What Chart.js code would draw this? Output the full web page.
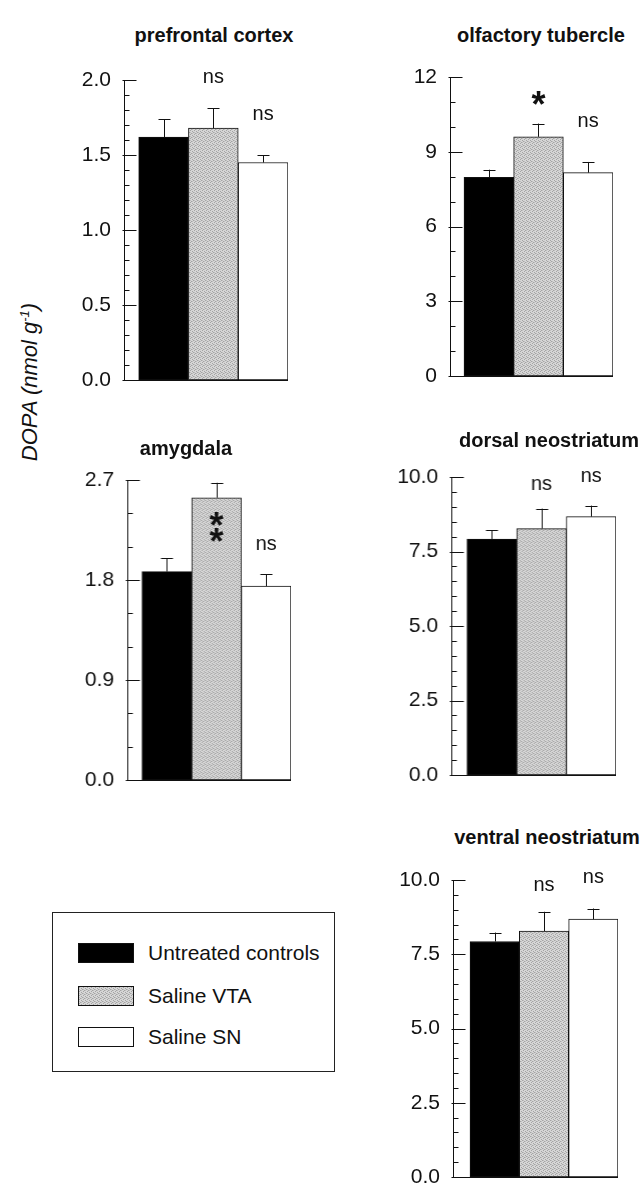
<!DOCTYPE html>
<html>
<head>
<meta charset="utf-8">
<script src="https://cdn.jsdelivr.net/npm/chart.js@4.4.1/dist/chart.umd.min.js"></script>
<style>
  body { margin: 0; background: #fff; width: 644px; height: 1186px; position: relative; overflow: hidden; font-family: "Liberation Sans", Arial, sans-serif; color: #111; }
  canvas.panel { position: absolute; }
  .title { position: absolute; font-weight: bold; font-size: 20px; white-space: nowrap; transform: translate(-50%, -50%); }
  #ylab { position: absolute; left: 30px; top: 382px; transform: translate(-50%, -50%) rotate(-90deg); font-style: italic; font-size: 22px; white-space: nowrap; }
  #ylab sup { font-size: 13px; }
  #legend { position: absolute; left: 52px; top: 912px; width: 283px; height: 160px; border: 1px solid #222; box-sizing: border-box; }
  .lrow { position: absolute; left: 25px; height: 20px; }
  .sw { position: absolute; left: 0; top: 0; width: 56px; height: 20px; border: 1px solid #111; box-sizing: border-box; }
  .lt { position: absolute; left: 70px; top: 50%; transform: translateY(-50%); font-size: 21px; white-space: nowrap; }
</style>
</head>
<body>
<div id="ylab">DOPA (nmol g<sup>-1</sup>)</div>
<div id="legend"></div>

<script>
const groups = ["Untreated controls", "Saline VTA", "Saline SN"];
const regions = ["prefrontal cortex", "olfactory tubercle", "amygdala", "dorsal neostriatum", "ventral neostriatum"];

// means and SEM per region (nmol/g)
const pfcMean = [1.62, 1.68, 1.45];
const pfcSem = [0.12, 0.13, 0.05];
const olfMean = [7.97, 9.6, 8.16];
const olfSem = [0.31, 0.53, 0.43];
const amyMean = [1.875, 2.54, 1.745];
const amySem = [0.12, 0.135, 0.105];
const dnsMean = [7.92, 8.27, 8.67];
const dnsSem = [0.30, 0.67, 0.37];
const vnsMean = [7.93, 8.28, 8.68];
const vnsSem = [0.30, 0.65, 0.36];

// significance marks
const pfcMarks = ["", "ns", "ns"];
const olfMarks = ["", "*", "ns"];
const amyMarks = ["", "**", "ns"];
const dnsMarks = ["", "ns", "ns"];
const vnsMarks = ["", "ns", "ns"];

// axis ticks: labelled values and minor step
const pfcTicks = [0.0, 0.5, 1.0, 1.5, 2.0];
const olfTicks = [0, 3, 6, 9, 12];
const amyTicks = [0.0, 0.9, 1.8, 2.7];
const dnsTicks = [0.0, 2.5, 5.0, 7.5, 10.0];
const vnsTicks = [0.0, 2.5, 5.0, 7.5, 10.0];
const pfcMinor = 0.1, olfMinor = 1, amyMinor = 0.3, dnsMinor = 0.5, vnsMinor = 0.5;

// gray stipple pattern
function makeStipple() {
  const c = document.createElement("canvas");
  c.width = 4; c.height = 4;
  const g = c.getContext("2d");
  g.fillStyle = "#d6d6d6";
  g.fillRect(0, 0, 4, 4);
  g.fillStyle = "#a4a4a4";
  [[0, 0], [2, 1], [1, 3], [3, 2]].forEach(p => g.fillRect(p[0], p[1], 1, 1));
  g.fillStyle = "#bdbdbd";
  [[2, 3], [0, 2]].forEach(p => g.fillRect(p[0], p[1], 1, 1));
  return c;
}
const stipple = makeStipple();
const grayFill = document.createElement("canvas").getContext("2d").createPattern(stipple, "repeat");
const fills = ["#000000", grayFill, "#ffffff"];

// legend
const legend = document.getElementById("legend");
const swTops = [30, 73, 114];
groups.forEach((g, i) => {
  const row = document.createElement("div");
  row.className = "lrow";
  row.style.top = swTops[i] + "px";
  const sw = document.createElement("div");
  sw.className = "sw";
  if (i === 0) sw.style.background = "#000";
  else if (i === 1) sw.style.backgroundImage = "url(" + stipple.toDataURL() + ")";
  else sw.style.background = "#fff";
  const t = document.createElement("div");
  t.className = "lt";
  t.textContent = g;
  row.appendChild(sw);
  row.appendChild(t);
  legend.appendChild(row);
});

const FONT = "'Liberation Sans', Arial, sans-serif";
const PAD_TOP = 30, PAD_BOTTOM = 28;

// baseline, error bars, inward tick marks and significance marks
const panelDeco = {
  id: "panelDeco",
  afterDatasetsDraw(chart) {
    const ctx = chart.ctx;
    const y = chart.scales.y;
    const area = chart.chartArea;
    const p = chart.options.plugins.panelDeco;
    const meta = chart.getDatasetMeta(0);
    ctx.save();
    ctx.strokeStyle = "#111";
    ctx.lineWidth = 1;
    const ax = Math.round(area.left) + 0.5;
    // baseline
    const by = Math.round(y.getPixelForValue(0)) + 0.5;
    ctx.beginPath();
    ctx.moveTo(ax, by);
    ctx.lineTo(area.right, by);
    ctx.stroke();
    // ticks
    y.ticks.forEach(t => {
      const py = Math.round(y.getPixelForValue(t.value)) + 0.5;
      const major = p.labels.some(v => Math.abs(v - t.value) < 1e-6);
      ctx.beginPath();
      ctx.moveTo(major ? ax - 2 : ax, py);
      ctx.lineTo(ax + (major ? 12 : 5), py);
      ctx.stroke();
    });
    // error bars
    meta.data.forEach((bar, i) => {
      const x = Math.round(bar.x) + 0.5;
      const top = y.getPixelForValue(p.mean[i] + p.sem[i]);
      ctx.beginPath();
      ctx.moveTo(x, bar.y);
      ctx.lineTo(x, top);
      ctx.moveTo(x - 6, Math.round(top) + 0.5);
      ctx.lineTo(x + 6, Math.round(top) + 0.5);
      ctx.stroke();
    });
    // marks
    ctx.fillStyle = "#111";
    ctx.textAlign = "center";
    meta.data.forEach((bar, i) => {
      const m = p.marks[i];
      if (!m) return;
      const top = y.getPixelForValue(p.mean[i] + p.sem[i]);
      const cy = top - p.off[i];
      if (m.indexOf("*") >= 0) {
        ctx.font = "bold 36px " + FONT;
        ctx.textBaseline = "alphabetic";
        const mt = ctx.measureText("*");
        const dy = (mt.actualBoundingBoxAscent - mt.actualBoundingBoxDescent) / 2;
        for (let k = 0; k < m.length; k++) {
          ctx.fillText("*", bar.x, cy + k * p.starGap + dy);
        }
      } else {
        ctx.font = "20px " + FONT;
        ctx.textBaseline = "middle";
        ctx.fillText(m, bar.x, cy);
      }
    });
    ctx.restore();
  }
};

function makePanel(cfg) {
  const gap = cfg.barLeft - cfg.axisX;
  const w = 70 + gap + 3 * cfg.barW + 4;
  const h = (cfg.bottom - cfg.top) + PAD_TOP + PAD_BOTTOM;
  const cv = document.createElement("canvas");
  cv.className = "panel";
  cv.width = w; cv.height = h;
  cv.style.left = (cfg.axisX - 70) + "px";
  cv.style.top = (cfg.top - PAD_TOP) + "px";
  cv.style.width = w + "px";
  cv.style.height = h + "px";
  document.body.appendChild(cv);

  const tt = document.createElement("div");
  tt.className = "title";
  tt.textContent = cfg.title;
  tt.style.left = cfg.titleX + "px";
  tt.style.top = cfg.titleY + "px";
  document.body.appendChild(tt);

  const ymax = cfg.ticks[cfg.ticks.length - 1];
  const nMinor = Math.round(ymax / cfg.minor);
  new Chart(cv, {
    type: "bar",
    data: {
      datasets: [{
        data: cfg.mean.map((v, i) => ({ x: i + 1, y: v })),
        backgroundColor: fills,
        borderColor: "#111",
        borderWidth: 1,
        borderSkipped: false,
        barPercentage: 1,
        categoryPercentage: 1
      }]
    },
    options: {
      responsive: false,
      animation: false,
      events: [],
      layout: { padding: { top: PAD_TOP, bottom: PAD_BOTTOM, left: 0, right: 4 } },
      plugins: {
        legend: { display: false },
        tooltip: { enabled: false },
        panelDeco: { mean: cfg.mean, sem: cfg.sem, marks: cfg.marks, off: cfg.off, labels: cfg.ticks, starGap: cfg.starGap || 0 }
      },
      scales: {
        x: {
          type: "linear",
          display: false,
          min: 0.5 - gap / cfg.barW,
          max: 3.5,
          offset: false,
          afterBuildTicks: s => { s.ticks = [1, 2, 3].map(v => ({ value: v })); }
        },
        y: {
          min: 0,
          max: ymax,
          afterBuildTicks: s => {
            const t = [];
            for (let i = 0; i <= nMinor; i++) t.push({ value: +(i * cfg.minor).toFixed(4) });
            s.ticks = t;
          },
          afterFit: s => { s.width = 70; },
          ticks: {
            autoSkip: false,
            padding: 13,
            color: "#111",
            font: { family: FONT, size: 21 },
            callback: v => cfg.ticks.some(t => Math.abs(t - v) < 1e-6) ? v.toFixed(cfg.dec) : ""
          },
          grid: { display: false, drawTicks: false },
          border: { display: true, color: "#111", width: 1 }
        }
      }
    },
    plugins: [panelDeco]
  });
}

makePanel({ title: regions[0], titleX: 214, titleY: 35, axisX: 124, barLeft: 138.7, barW: 49.8, top: 80, bottom: 380,
  mean: pfcMean, sem: pfcSem, marks: pfcMarks, off: [0, 31, 41], ticks: pfcTicks, minor: pfcMinor, dec: 1 });
makePanel({ title: regions[1], titleX: 541, titleY: 35, axisX: 450, barLeft: 464, barW: 49.7, top: 77, bottom: 376,
  mean: olfMean, sem: olfSem, marks: olfMarks, off: [0, 26, 40], ticks: olfTicks, minor: olfMinor, dec: 0 });
makePanel({ title: regions[2], titleX: 186, titleY: 448, axisX: 127, barLeft: 141.7, barW: 49.7, top: 480, bottom: 780,
  mean: amyMean, sem: amySem, marks: amyMarks, off: [0, -36, 30], starGap: 16, ticks: amyTicks, minor: amyMinor, dec: 1 });
makePanel({ title: regions[3], titleX: 549, titleY: 440, axisX: 451, barLeft: 466.7, barW: 49.7, top: 477, bottom: 775,
  mean: dnsMean, sem: dnsSem, marks: dnsMarks, off: [0, 24, 29], ticks: dnsTicks, minor: dnsMinor, dec: 1 });
makePanel({ title: regions[4], titleX: 547, titleY: 837, axisX: 453, barLeft: 470, barW: 49.4, top: 880, bottom: 1177,
  mean: vnsMean, sem: vnsSem, marks: vnsMarks, off: [0, 26, 31], ticks: vnsTicks, minor: vnsMinor, dec: 1 });
</script>
</body>
</html>
